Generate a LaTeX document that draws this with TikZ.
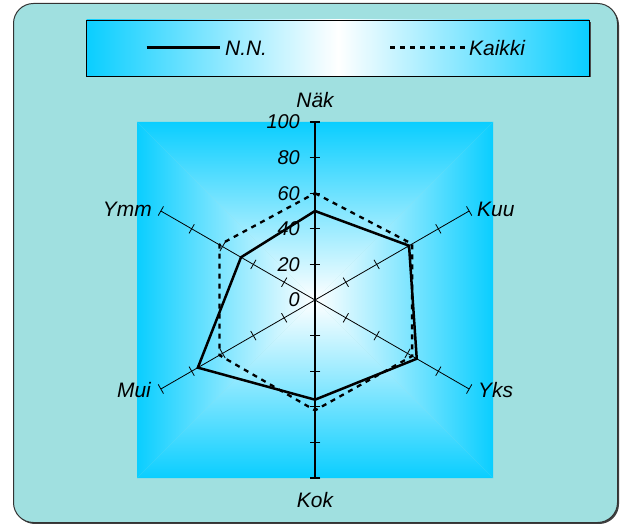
\documentclass[tikz,border=0pt]{standalone}
\usepackage{fontspec}
\setmainfont{Liberation Sans}
\definecolor{bgteal}{RGB}{160,224,224}
\definecolor{skyc}{RGB}{10,206,255}
\tikzset{
  lbl/.style={font=\fontsize{21}{25}\selectfont\itshape, inner sep=1pt},
  tlbl/.style={font=\fontsize{20}{24}\selectfont\itshape, inner sep=0pt},
  axisv/.style={line width=1.1bp, black},
  axisd/.style={line width=0.8bp, black},
  nnline/.style={line width=2.5bp, black, line join=miter},
  allline/.style={line width=2.3bp, black, dash pattern=on 5bp off 5bp},
}
\begin{document}
\begin{tikzpicture}[x=1bp,y=-1bp]
\useasboundingbox (0,0) rectangle (625,524);
\fill[white] (0,0) rectangle (625,524);
% outer frame
\fill[black!75, rounded corners=20] (15,5) rectangle (619,524);
\draw[black!80, line width=1bp, fill=bgteal, rounded corners=20] (13.5,3.5) rectangle (617.5,522.5);
% legend box
\fill[black!70] (88,22) rectangle (590.5,77.5);
\shade[left color=skyc, right color=skyc, middle color=white] (86.5,20) rectangle (589,76);
\draw[black, line width=0.8bp] (86.5,20) rectangle (589,76);
\coordinate (lgA1) at (146.5,47.5);
\coordinate (lgA2) at (220,47.5);
\coordinate (lgB1) at (390,47.5);
\coordinate (lgB2) at (467,47.5);
\draw[nnline] (lgA1) -- (lgA2);
\node[lbl, anchor=west] (lgNN) at (224,48) {N.N.};
\draw[allline] (lgB1) -- (lgB2);
\node[lbl, anchor=west] (lgAll) at (468,48) {Kaikki};
% plot area: rectangular path gradient
\coordinate (TL) at (137,122);
\coordinate (TR) at (493,122);
\coordinate (BR) at (493,478);
\coordinate (BL) at (137,478);
\coordinate (C) at (315,300);
\begin{scope}
  \clip (C) -- (TL) -- (TR) -- cycle;
  \shade[top color=skyc, bottom color=white] (137,122) rectangle (493,300);
\end{scope}
\begin{scope}
  \clip (C) -- (BL) -- (BR) -- cycle;
  \shade[top color=white, bottom color=skyc] (137,300) rectangle (493,478);
\end{scope}
\begin{scope}
  \clip (C) -- (TL) -- (BL) -- cycle;
  \shade[left color=skyc, right color=white] (137,122) rectangle (315,478);
\end{scope}
\begin{scope}
  \clip (C) -- (TR) -- (BR) -- cycle;
  \shade[left color=white, right color=skyc] (315,122) rectangle (493,478);
\end{scope}
% tick labels
\foreach \k/\t in {0/0,1/20,2/40,3/60,4/80,5/100}{
  \node[tlbl, anchor=east] (tl\t) at (300,{300-35.6*\k}) {\t};
}
\begin{scope}[shift={(315,300)}, yscale=-1]
  \coordinate (O) at (0,0);
  % axes
  \foreach \a/\n/\s in {90/Nak/axisv,270/Kok/axisv,30/Kuu/axisd,-30/Yks/axisd,210/Mui/axisd,150/Ymm/axisd}{
    \coordinate (ax\n) at (\a:178);
    \draw[\s] (O) -- (ax\n);
    \foreach \k in {1,...,5}{
      \draw[\s] (\a:{35.6*\k}) ++(\a+90:5.3) -- ++(\a-90:10.6);
    }
  }
  % data
  \foreach \a/\n/\v/\w in {90/1/50/60,30/2/61/63,-30/3/66/63,270/4/56/62,210/5/76/62,150/6/48/62}{
    \coordinate (nn\n) at (\a:{1.78*\v});
    \coordinate (all\n) at (\a:{1.78*\w});
  }
  \draw[allline] (all1) -- (all2) -- (all3) -- (all4) -- (all5) -- (all6) -- cycle;
  \draw[nnline] (nn1) -- (nn2) -- (nn3) -- (nn4) -- (nn5) -- (nn6) -- cycle;
\end{scope}
% axis labels
\node[lbl] (lNak) at (315,100) {Näk};
\node[lbl, anchor=west] (lKuu) at (476,209) {Kuu};
\node[lbl, anchor=west] (lYks) at (477,390) {Yks};
\node[lbl] (lKok) at (315,500) {Kok};
\node[lbl, anchor=east] (lMui) at (152,390) {Mui};
\node[lbl, anchor=east] (lYmm) at (153,209) {Ymm};
\end{tikzpicture}
\end{document}
